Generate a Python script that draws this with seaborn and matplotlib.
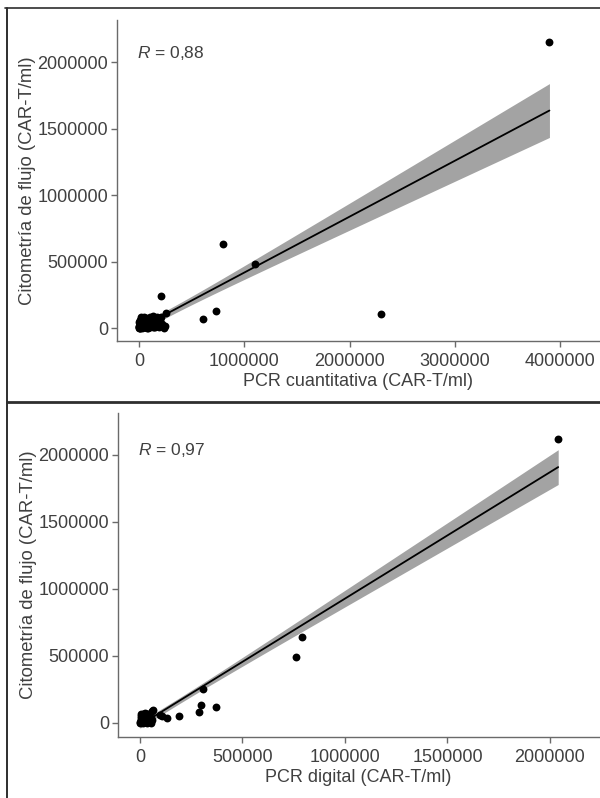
import matplotlib
matplotlib.use("Agg")
import matplotlib.pyplot as plt
from matplotlib.lines import Line2D
import numpy as np
import pandas as pd
import seaborn as sns

# ---------------- data (CAR-T/ml) ----------------
qpcr_x = [3900000, 2300000, 1100000, 800000, 730000, 610000, 260000, 210000,
          0, 5000, 10000, 15000, 20000, 25000, 30000, 35000, 40000, 45000,
          50000, 55000, 60000, 65000, 70000, 75000, 80000, 85000, 90000, 95000,
          100000, 105000, 110000, 115000, 120000, 125000, 130000, 140000, 150000,
          160000, 170000, 180000, 190000, 200000, 210000, 220000, 240000, 245000,
          8000, 12000, 18000, 28000, 3000, 6000, 2000,
          1000, 4000, 7000, 9000, 11000, 14000, 17000, 22000, 26000, 33000,
          38000, 42000, 48000, 52000, 58000, 62000, 68000, 72000, 78000, 83000,
          88000, 93000, 98000, 108000, 118000, 128000, 135000, 145000, 155000,
          165000]
qpcr_y = [2150000, 105000, 480000, 630000, 130000, 70000, 115000, 240000,
          0, 2000, 20000, 5000, 40000, 10000, 0, 60000, 15000, 85000,
          30000, 5000, 50000, 20000, 75000, 0, 35000, 10000, 60000, 25000,
          85000, 5000, 45000, 15000, 70000, 30000, 90000, 10000, 55000,
          20000, 80000, 40000, 5000, 60000, 85000, 30000, 0, 15000,
          60000, 35000, 80000, 50000, 10000, 30000, 45000,
          5000, 15000, 25000, 0, 50000, 10000, 30000, 20000, 40000, 5000,
          25000, 45000, 10000, 60000, 15000, 35000, 5000, 55000, 20000, 45000,
          0, 70000, 40000, 25000, 50000, 10000, 65000, 35000, 5000,
          45000]

dpcr_x = [2040000, 790000, 760000, 370000, 310000, 300000, 290000, 190000,
          130000, 110000, 100000, 65000, 57000,
          0, 2000, 4000, 6000, 8000, 10000, 12000, 14000, 16000, 18000, 20000,
          22000, 24000, 26000, 28000, 30000, 32000, 34000, 36000, 38000, 40000,
          42000, 44000, 46000, 48000, 50000, 52000, 55000, 58000, 5000, 15000,
          25000, 35000, 45000, 3000]
dpcr_y = [2120000, 640000, 490000, 120000, 250000, 135000, 80000, 54000,
          37000, 50000, 60000, 100000, 90000,
          0, 10000, 25000, 40000, 5000, 55000, 15000, 30000, 0, 45000, 20000,
          60000, 8000, 35000, 50000, 12000, 28000, 0, 42000, 18000, 58000,
          5000, 32000, 48000, 22000, 10000, 38000, 0, 25000, 65000, 70000,
          75000, 65000, 70000, 50000]

top_xticks = [0, 1000000, 2000000, 3000000, 4000000]
bot_xticks = [0, 500000, 1000000, 1500000, 2000000]
yticks = [0, 500000, 1000000, 1500000, 2000000]

top_r = "0,88"
bot_r = "0,97"
ylabel = "Citometría de flujo (CAR-T/ml)"
top_xlabel = "PCR cuantitativa (CAR-T/ml)"
bot_xlabel = "PCR digital (CAR-T/ml)"

# ---------------- style ----------------
sns.set_theme(style="ticks")
plt.rcParams["font.family"] = ["Liberation Sans", "DejaVu Sans"]
plt.rcParams["mathtext.fontset"] = "custom"
plt.rcParams["mathtext.it"] = "Liberation Sans:italic"
plt.rcParams["mathtext.rm"] = "Liberation Sans"

W, H = 600, 798
fig = plt.figure(figsize=(W / 100, H / 100), dpi=100)
fig.patch.set_facecolor("white")


def ax_rect(l, t, r, b):
    return [l / W, 1 - b / H, (r - l) / W, (b - t) / H]


ax1 = fig.add_axes(ax_rect(117, 20, 599, 341))
ax2 = fig.add_axes(ax_rect(118, 413, 599, 737))

axis_col = "#6a6a6a"
text_col = "#404040"
T975 = 1.99  # two-sided 95% t quantile for the panel sample sizes


def lm_band(ax, x, y):
    x = np.asarray(x, float)
    y = np.asarray(y, float)
    n = len(x)
    b1, b0 = np.polyfit(x, y, 1)
    xs = np.linspace(x.min(), x.max(), 200)
    yhat = b0 + b1 * xs
    resid = y - (b0 + b1 * x)
    s = np.sqrt(np.sum(resid ** 2) / (n - 2))
    sxx = np.sum((x - x.mean()) ** 2)
    se = s * np.sqrt(1 / n + (xs - x.mean()) ** 2 / sxx)
    ax.fill_between(xs, yhat - T975 * se, yhat + T975 * se,
                    color="#a3a3a3", lw=0, zorder=2)


def panel(ax, x, y, xticks, xlim, ylim, xlabel, rtxt, rpos):
    df = pd.DataFrame({"x": x, "y": y})
    lm_band(ax, x, y)
    sns.regplot(data=df, x="x", y="y", ax=ax, ci=None,
                scatter_kws=dict(s=32, color="black", linewidths=0, zorder=4, alpha=1),
                line_kws=dict(color="black", lw=1.3, zorder=3))
    ax.set_xlim(*xlim)
    ax.set_ylim(*ylim)
    ax.set_xticks(xticks)
    ax.set_xticklabels([str(v) for v in xticks])
    ax.set_yticks(yticks)
    ax.set_yticklabels([str(v) for v in yticks])
    for s in ["top", "right"]:
        ax.spines[s].set_visible(False)
    for s in ["left", "bottom"]:
        ax.spines[s].set_color(axis_col)
        ax.spines[s].set_linewidth(1.0)
    ax.tick_params(axis="both", colors=axis_col, labelcolor=text_col,
                   length=4.5, width=1.0, labelsize=13)
    ax.tick_params(axis="x", pad=4)
    ax.tick_params(axis="y", pad=2)
    ax.set_xlabel(xlabel, fontsize=13, color=text_col, labelpad=2)
    ax.set_ylabel(ylabel, fontsize=13.3, color=text_col, labelpad=1)
    ax.text(rpos[0], rpos[1], r"$\it{R}$ = " + rtxt, transform=ax.transAxes,
            fontsize=12.5, color=text_col, ha="left", va="center")
    ax.set_facecolor("white")


panel(ax1, qpcr_x, qpcr_y, top_xticks, (-209500, 4371000), (-97700, 2316000),
      top_xlabel, top_r, (0.042, 0.897))
panel(ax2, dpcr_x, dpcr_y, bot_xticks, (-107000, 2239000), (-104500, 2313000),
      bot_xlabel, bot_r, (0.042, 0.886))

# frame lines
frame_col = "#2e2e2e"
fig.add_artist(Line2D([5 / W, 1], [1 - 8 / H] * 2, transform=fig.transFigure,
                      color=frame_col, lw=1.2))
fig.add_artist(Line2D([7 / W] * 2, [0, 1 - 8 / H], transform=fig.transFigure,
                      color=frame_col, lw=1.4))
fig.add_artist(Line2D([7 / W, 1], [1 - 402 / H] * 2, transform=fig.transFigure,
                      color=frame_col, lw=2.0))

fig.savefig("out.png", dpi=100, facecolor="white")
